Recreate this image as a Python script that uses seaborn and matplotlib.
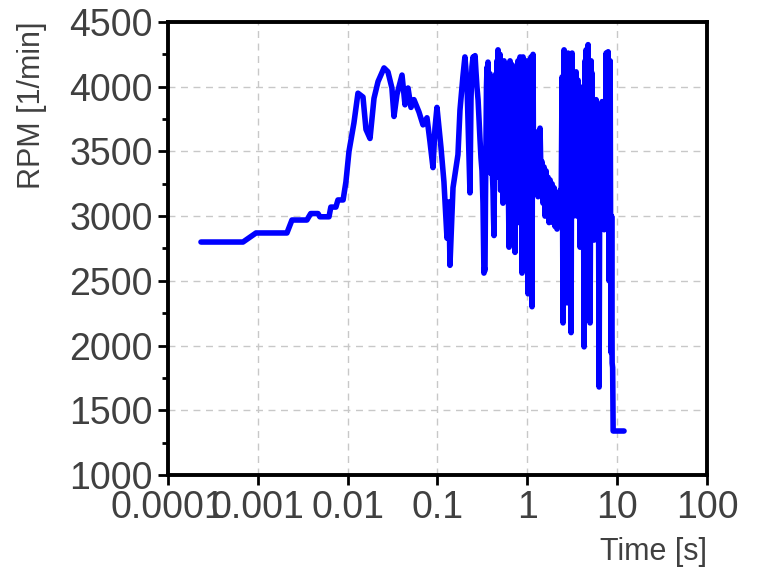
import numpy as np
import pandas as pd
import seaborn as sns
import matplotlib
matplotlib.use("Agg")
import matplotlib.pyplot as plt
from matplotlib.ticker import LogLocator, NullFormatter, MultipleLocator

# ---------------- data ----------------
# staircase start
ramp_time = [0.000233, 0.000684, 0.000955, 0.00211, 0.0024, 0.00352, 0.00388, 0.00468,
             0.0049, 0.0062, 0.0065, 0.0074, 0.0078, 0.0089]
ramp_rpm = [2800, 2800, 2870, 2870, 2970, 2970, 3020, 3020,
            2995, 2995, 3070, 3070, 3125, 3125]

# climb, hump and first dip
hump_time = [0.00957, 0.01035, 0.01175, 0.01303, 0.01482, 0.016, 0.01774, 0.01965, 0.0218,
             0.0254, 0.0281, 0.0311, 0.0328, 0.0354, 0.0403, 0.0435, 0.047, 0.0507, 0.0547,
             0.0622, 0.069, 0.0764, 0.0825, 0.0891, 0.0938, 0.0987, 0.1094, 0.118, 0.1276,
             0.1343, 0.1377, 0.1489, 0.169, 0.178, 0.192, 0.202, 0.213]
hump_rpm = [3265, 3500, 3720, 3950, 3920, 3670, 3600, 3910, 4040,
            4145, 4115, 3990, 3770, 3940, 4090, 3860, 3990, 3840, 3900,
            3805, 3705, 3760, 3575, 3375, 3680, 3840, 3530, 3265, 2830,
            3110, 2620, 3220, 3475, 3820, 4080, 4230, 4030]

# lead-in to first dense block
lead_time = [0.230, 0.236, 0.242, 0.249, 0.255, 0.262, 0.268, 0.275, 0.283, 0.290,
             0.297, 0.305, 0.313, 0.321]
lead_rpm = [3180, 3900, 4155, 4230, 4180, 4240, 4120, 4000, 3900, 3750,
            3600, 3450, 3350, 3100]

# first dense oscillation block
dense1_time = [0.329, 0.333, 0.338, 0.342, 0.347, 0.351, 0.356, 0.360, 0.365, 0.370,
               0.374, 0.379, 0.384, 0.389, 0.394, 0.399, 0.405, 0.410, 0.415, 0.420,
               0.426, 0.431, 0.437, 0.442, 0.448, 0.454, 0.460, 0.466, 0.472, 0.478,
               0.484, 0.491, 0.497, 0.503, 0.510, 0.516, 0.523, 0.530, 0.536, 0.543,
               0.550, 0.558, 0.565, 0.572, 0.579, 0.587, 0.594, 0.602, 0.610, 0.618,
               0.626, 0.634, 0.642, 0.650, 0.659, 0.667, 0.676, 0.684, 0.693, 0.702,
               0.711, 0.721, 0.730, 0.739, 0.749, 0.758, 0.768, 0.778, 0.788, 0.799,
               0.809, 0.819, 0.830, 0.840, 0.851, 0.862, 0.873, 0.885, 0.896, 0.908,
               0.919, 0.931, 0.943, 0.956, 0.968, 0.981, 0.993, 1.006, 1.018, 1.032,
               1.045, 1.058, 1.072, 1.086, 1.100, 1.114, 1.128, 1.143, 1.158, 1.173,
               1.188, 1.203, 1.219]
dense1_rpm = [2560, 2600, 2580, 3100, 3600, 4000, 4150, 3500, 4190, 3800,
              3400, 4100, 4100, 3500, 3330, 4000, 4050, 3300, 3200, 3000,
              2850, 3400, 3300, 4000, 4100, 3300, 4200, 3600, 4285, 3400,
              3300, 4100, 4250, 3200, 3200, 4150, 4120, 3300, 3100, 4050,
              4200, 3200, 3150, 4000, 4100, 3300, 3500, 4150, 4050, 3100,
              2760, 4000, 4200, 3300, 3050, 4100, 4170, 3200, 2900, 4000,
              4100, 3100, 2720, 3900, 4130, 3200, 3000, 4150, 4200, 3150,
              2950, 4100, 4230, 3300, 3100, 3900, 2560, 3800, 4230, 3200,
              3200, 4050, 4100, 3100, 2900, 4000, 4200, 3300, 2400, 3900,
              4150, 3100, 3000, 4100, 4230, 3200, 2300, 3900, 4250, 3300,
              3600, 3500, 3350]

# plateau between the blocks
plateau_time = [1.250, 1.283, 1.316, 1.350, 1.385, 1.421, 1.458, 1.496, 1.535, 1.575,
                1.616, 1.658, 1.701, 1.745, 1.791, 1.837, 1.885, 1.934, 1.984, 2.036,
                2.089, 2.143, 2.199, 2.256, 2.315, 2.375]
plateau_rpm = [3650, 3300, 3150, 3400, 3680, 3300, 3420, 3100, 3380, 3000,
               3350, 3150, 3300, 2950, 3280, 3100, 3250, 2950, 3220, 2920,
               3180, 2900, 3150, 3000, 3200, 3000]

# second dense oscillation block and final drop
dense2_time = [2.437, 2.468, 2.500, 2.532, 2.565, 2.598, 2.632, 2.666, 2.700, 2.735,
               2.770, 2.806, 2.842, 2.879, 2.916, 2.954, 2.992, 3.031, 3.070, 3.110,
               3.150, 3.191, 3.232, 3.274, 3.316, 3.359, 3.402, 3.446, 3.490, 3.535,
               3.581, 3.627, 3.674, 3.722, 3.770, 3.819, 3.868, 3.918, 3.968, 4.019,
               4.071, 4.124, 4.177, 4.231, 4.286, 4.341, 4.397, 4.454, 4.512, 4.570,
               4.629, 4.689, 4.749, 4.811, 4.873, 4.936, 5.000, 5.065, 5.130, 5.196,
               5.263, 5.331, 5.400, 5.470, 5.540, 5.612, 5.684, 5.758, 5.832, 5.907,
               5.984, 6.061, 6.139, 6.219, 6.299, 6.380, 6.463, 6.546, 6.631, 6.717,
               6.803, 6.891, 6.980, 7.071, 7.162, 7.254, 7.348, 7.443, 7.539, 7.637,
               7.735, 7.835, 7.937, 8.039, 8.143, 8.248, 8.355, 8.463, 8.572, 8.683,
               8.795, 8.909, 9.024, 11.93]
dense2_rpm = [4075, 3000, 2175, 3500, 4285, 3200, 2500, 3900, 4200, 3000,
              2330, 3600, 4260, 3300, 2600, 3800, 4200, 2900, 2100, 3500,
              4260, 3200, 3000, 4000, 4105, 3300, 3460, 4000, 4115, 3100,
              3000, 3900, 4050, 3100, 3200, 3800, 2760, 3500, 3900, 3000,
              3100, 3900, 4000, 3000, 1990, 3200, 4200, 3300, 4285, 3400,
              3000, 4100, 4325, 3200, 2800, 3900, 2175, 3300, 4200, 3100,
              4105, 3300, 3000, 3800, 2815, 3400, 3700, 3100, 3900, 3200,
              3200, 3700, 3500, 2900, 1680, 3000, 3400, 3700, 3760, 3000,
              3885, 3200, 3300, 3000, 2895, 3600, 3500, 3000, 4260, 3200,
              3000, 4100, 4270, 3000, 2500, 3800, 4200, 2800, 1945, 3000,
              1865, 1830, 1340, 1340]

x_ticks = [0.0001, 0.001, 0.01, 0.1, 1, 10, 100]
x_tick_labels = ["0.0001", "0.001", "0.01", "0.1", "1", "10", "100"]
y_ticks = [1000, 1500, 2000, 2500, 3000, 3500, 4000, 4500]

df = pd.DataFrame({
    "time": ramp_time + hump_time + lead_time + dense1_time + plateau_time + dense2_time,
    "rpm": ramp_rpm + hump_rpm + lead_rpm + dense1_rpm + plateau_rpm + dense2_rpm,
})

# ---------------- plot ----------------
sns.set_style("ticks")
plt.rcParams["font.family"] = ["Liberation Sans", "DejaVu Sans"]
plt.rcParams["path.simplify"] = False

fig = plt.figure(figsize=(7.58, 5.71), dpi=100)
ax = fig.add_axes([0.2216, 0.1681, 0.7111, 0.7934])

sns.lineplot(data=df, x="time", y="rpm", ax=ax, color="#0000ff", linewidth=4.0,
             sort=False, estimator=None, solid_joinstyle="round", solid_capstyle="round")

ax.set_xscale("log")
ax.set_xlim(1e-4, 100)
ax.set_ylim(1000, 4500)
ax.set_xticks(x_ticks, x_tick_labels)
ax.xaxis.set_minor_locator(LogLocator(base=10, subs=np.arange(2, 10)))
ax.xaxis.set_minor_formatter(NullFormatter())
ax.set_yticks(y_ticks, [str(v) for v in y_ticks])
ax.yaxis.set_minor_locator(MultipleLocator(250))

ax.set_axisbelow(True)
ax.grid(True, which="major", linestyle=(0, (5, 4)), color="#c8c8c8", linewidth=1.0)

for s in ax.spines.values():
    s.set_visible(True)
    s.set_color("black")
    s.set_linewidth(2.8)

ax.tick_params(axis="both", which="major", direction="out", length=7, width=2,
               color="black", labelsize=27, labelcolor="#404040", pad=4,
               top=False, right=False)
ax.tick_params(axis="both", which="minor", direction="out", length=4, width=2,
               color="black", top=False, right=False)

ax.set_xlabel("Time [s]", fontsize=22, color="#404040", loc="right", labelpad=8)
ax.set_ylabel("RPM [1/min]", fontsize=22, color="#404040", loc="top", labelpad=16)

fig.savefig("out.png", dpi=100, facecolor="white")
